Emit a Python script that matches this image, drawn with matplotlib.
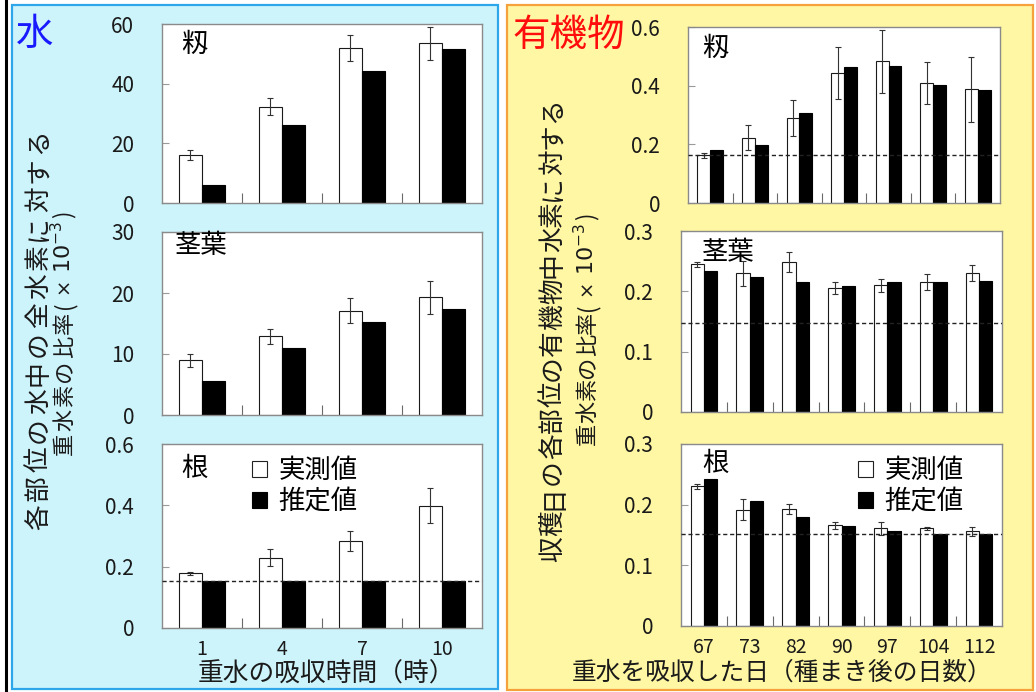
import numpy as np
import matplotlib
matplotlib.use("Agg")
import matplotlib.pyplot as plt
from matplotlib.patches import Rectangle, Patch
from matplotlib.lines import Line2D
from matplotlib.ticker import FuncFormatter

plt.rcParams["font.family"] = ["Noto Sans CJK JP", "DejaVu Sans"]

# ---- data: water fraction (x 10^-3) ----
water_hours = ["1", "4", "7", "10"]
water_grain_obs = [16.1, 32.3, 51.9, 53.5]
water_grain_err = [1.7, 2.9, 4.4, 5.6]
water_grain_est = [6.0, 26.0, 44.4, 51.5]
water_stem_obs = [9.0, 12.9, 17.1, 19.3]
water_stem_err = [1.05, 1.26, 2.0, 2.7]
water_stem_est = [5.6, 10.95, 15.2, 17.35]
water_root_obs = [0.178, 0.229, 0.283, 0.398]
water_root_err = [0.005, 0.027, 0.033, 0.057]
water_root_est = [0.152, 0.152, 0.152, 0.152]
water_root_base = 0.152

# ---- data: organic matter fraction (x 10^-3) ----
organic_days = ["67", "73", "82", "90", "97", "104", "112"]
org_grain_obs = [0.162, 0.223, 0.290, 0.443, 0.483, 0.410, 0.387]
org_grain_err = [0.010, 0.044, 0.062, 0.090, 0.107, 0.071, 0.110]
org_grain_est = [0.179, 0.199, 0.306, 0.465, 0.468, 0.403, 0.385]
org_grain_base = 0.162
org_stem_obs = [0.245, 0.230, 0.249, 0.206, 0.210, 0.216, 0.230]
org_stem_err = [0.004, 0.021, 0.017, 0.010, 0.011, 0.013, 0.013]
org_stem_est = [0.234, 0.224, 0.216, 0.209, 0.216, 0.216, 0.217]
org_stem_base = 0.147
org_root_obs = [0.230, 0.192, 0.193, 0.166, 0.161, 0.161, 0.156]
org_root_err = [0.004, 0.017, 0.008, 0.0055, 0.011, 0.003, 0.008]
org_root_est = [0.243, 0.206, 0.180, 0.165, 0.156, 0.152, 0.151]
org_root_base = 0.151

legend_labels = ["実測値", "推定値"]

W, H = 1036, 692
fig = plt.figure(figsize=(W / 100, H / 100), dpi=100)
TEXT = "#1a1a1a"
SPINE = "#8a8a8a"
BW = 0.29


def fx(x):
    return x / W


def fy(y):
    return 1 - y / H


# panel backgrounds
fig.patches.append(Rectangle((fx(12), fy(689)), (498 - 12) / W, (689 - 5) / H,
                             transform=fig.transFigure, facecolor="#cef4fb",
                             edgecolor="#2ea6ea", lw=1.6, zorder=-5))
fig.patches.append(Rectangle((fx(507), fy(690)), (1033 - 507) / W, (690 - 5) / H,
                             transform=fig.transFigure, facecolor="#fff7a3",
                             edgecolor="#f6a23c", lw=1.6, zorder=-5))
fig.add_artist(Line2D([fx(6), fx(6)], [0, 1], transform=fig.transFigure,
                      color="black", lw=2.2))


def make_axes(x0, y0, x1, y1):
    return fig.add_axes([fx(x0), fy(y1), (x1 - x0) / W, (y1 - y0) / H])


def tick_fmt(v, pos):
    return "0" if abs(v) < 1e-9 else f"{v:g}"


def draw_panel(ax, obs, err, est, ylim, yticks, base=None, xlabels=None):
    n = len(obs)
    x = np.arange(n)
    ax.bar(x - BW / 2, obs, BW, facecolor="white", edgecolor="#1a1a1a", lw=0.8, zorder=2)
    ax.bar(x + BW / 2, est, BW, facecolor="black", edgecolor="black", lw=0.8, zorder=2)
    ax.errorbar(x - BW / 2, obs, yerr=err, fmt="none", ecolor="#333333",
                elinewidth=0.8, capsize=2.5, capthick=0.8, zorder=3)
    if base is not None:
        ax.axhline(base, color="#222222", lw=1.0, ls=(0, (3, 2)), zorder=4)
    ax.set_xlim(-0.5, n - 0.5)
    ax.set_ylim(*ylim)
    ax.set_yticks(yticks)
    ax.yaxis.set_major_formatter(FuncFormatter(tick_fmt))
    ax.tick_params(axis="y", direction="in", length=5, width=0.8, color="#9a9a9a",
                   labelsize=15, pad=20, labelcolor=TEXT)
    ax.set_xticks(x)
    ax.set_xticks(np.arange(n - 1) + 0.5, minor=True)
    ax.tick_params(axis="x", which="major", length=0, labelsize=14, pad=8,
                   labelcolor=TEXT)
    ax.tick_params(axis="x", which="minor", direction="in", length=7, width=0.8,
                   color="#6a6a6a")
    if xlabels is None:
        ax.set_xticklabels([])
    else:
        ax.set_xticklabels(xlabels)
    for s in ax.spines.values():
        s.set_color(SPINE)
        s.set_linewidth(1.0)
    ax.set_facecolor("white")


# left column: water
axL1 = make_axes(162, 24, 482, 203)
axL2 = make_axes(162, 232, 482, 415)
axL3 = make_axes(162, 444, 482, 628)
draw_panel(axL1, water_grain_obs, water_grain_err, water_grain_est, (0, 60), [0, 20, 40, 60])
draw_panel(axL2, water_stem_obs, water_stem_err, water_stem_est, (0, 30), [0, 10, 20, 30])
draw_panel(axL3, water_root_obs, water_root_err, water_root_est, (0, 0.6), [0, 0.2, 0.4, 0.6],
           base=water_root_base, xlabels=water_hours)

# right column: organic matter
axR1 = make_axes(688, 27, 1000, 203)
axR2 = make_axes(681, 231, 1002, 412)
axR3 = make_axes(681, 444, 1002, 626)
draw_panel(axR1, org_grain_obs, org_grain_err, org_grain_est, (0, 0.6), [0, 0.2, 0.4, 0.6],
           base=org_grain_base)
draw_panel(axR2, org_stem_obs, org_stem_err, org_stem_est, (0, 0.3), [0, 0.1, 0.2, 0.3],
           base=org_stem_base)
draw_panel(axR3, org_root_obs, org_root_err, org_root_est, (0, 0.3), [0, 0.1, 0.2, 0.3],
           base=org_root_base, xlabels=organic_days)

# organ labels inside each plot
for (x, y, s) in [(181, 44, "籾"), (175, 245, "茎葉"), (181, 468, "根"),
                  (702, 48, "籾"), (702, 252, "茎葉"), (702, 463, "根")]:
    fig.text(fx(x), fy(y), s, fontsize=19, ha="left", va="center", color="black")

# panel titles
fig.text(fx(35), fy(34), "水", fontsize=27, ha="center", va="center", color="#1a1aff")
fig.text(fx(569), fy(35), "有機物", fontsize=27, ha="center", va="center", color="#ff0d0d")

# legends
handles = [Patch(facecolor="white", edgecolor="#222222", lw=0.8),
           Patch(facecolor="black", edgecolor="black", lw=0.8)]
for ax, x0 in [(axL3, 252), (axR3, 858)]:
    ax.legend(handles, legend_labels, loc="upper left",
              bbox_to_anchor=(fx(x0), fy(457)), bbox_transform=fig.transFigure,
              frameon=False, fontsize=19, handlelength=0.55, handleheight=0.55,
              handletextpad=0.45, labelspacing=0.18, borderpad=0, borderaxespad=0)

# x-axis titles
fig.text(fx(326), fy(675), "重水の吸収時間（時）", fontsize=18.5, ha="center", va="center",
         color=TEXT)
fig.text(fx(782), fy(673), "重水を吸収した日（種まき後の日数）", fontsize=17.8, ha="center",
         va="center", color=TEXT)

# y-axis titles: vertical text built from stacked pieces
renderer = fig.canvas.get_renderer()


def vertical_chars(x_base, y_bottom, line, pitch, size):
    for i, ch in enumerate(line):
        fig.text(fx(x_base), fy(y_bottom - i * pitch), ch, rotation=90,
                 rotation_mode="anchor", ha="left", va="baseline",
                 fontsize=size, color=TEXT)
    return y_bottom - len(line) * pitch


def vertical_pieces(x_base, y_bottom, pieces):
    y = y_bottom
    for s, size, gap in pieces:
        y -= gap
        t = fig.text(fx(x_base), fy(y), s, rotation=90, rotation_mode="anchor",
                     ha="left", va="baseline", fontsize=size, color=TEXT)
        y -= t.get_window_extent(renderer).height


def ratio_line(x_base, y_bottom, pitch, size):
    y = vertical_chars(x_base, y_bottom, "重水素の比率", pitch, size)
    vertical_pieces(x_base, y, [("(", size, 1), (r"$\times$", 14, 4),
                                (r"$10^{-3}$", 16, 9), (")", size, 3)])


vertical_chars(46, 530, "各部位の水中の全水素に対する", 28.9, 18.5)
ratio_line(71, 455, 24.2, 16)
vertical_chars(560, 562, "収穫日の各部位の有機物中水素に対する", 25.8, 18.5)
ratio_line(594, 445, 22.2, 16)

fig.savefig("out.png", dpi=100)
